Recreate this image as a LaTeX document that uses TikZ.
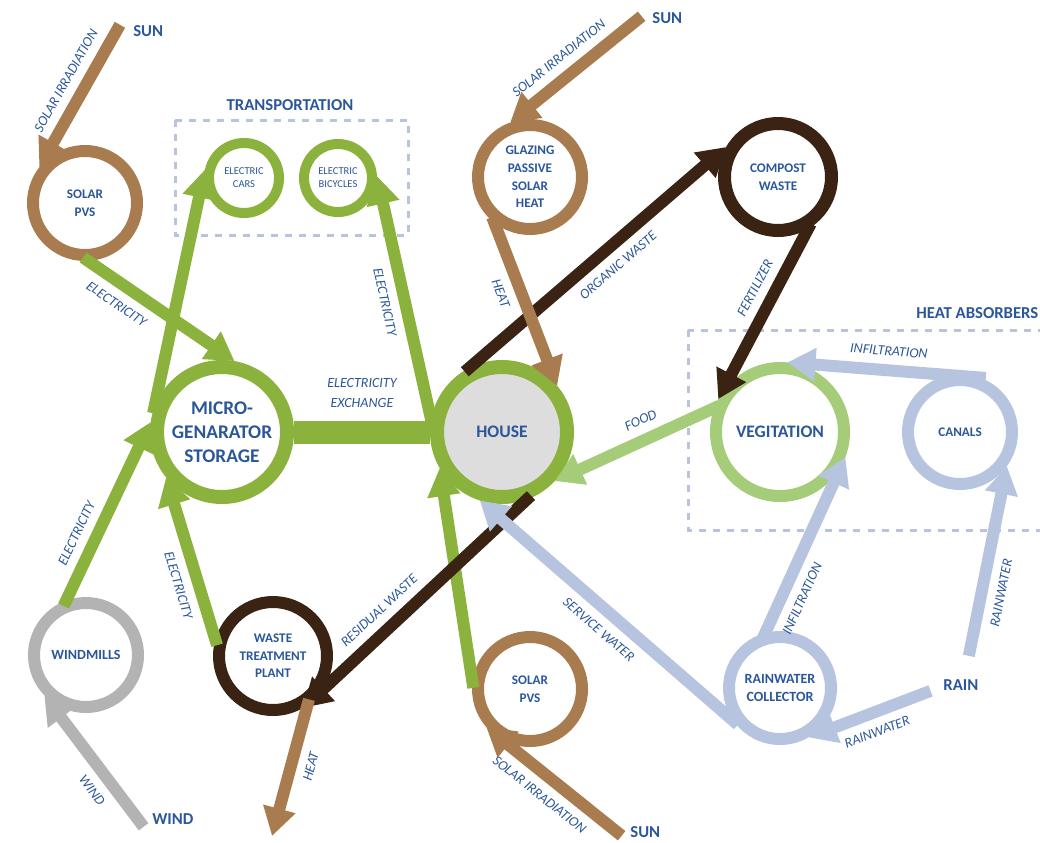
\documentclass[tikz,border=0pt]{standalone}
\usepackage{fontspec}
\setmainfont{Carlito}
\usetikzlibrary{arrows.meta}
\definecolor{pvbrown}{HTML}{A97C50}
\definecolor{wastebrown}{HTML}{3B2314}
\definecolor{elgreen}{HTML}{8AB23C}
\definecolor{foodgreen}{HTML}{A5CD79}
\definecolor{water}{HTML}{B7C4DF}
\definecolor{windgray}{HTML}{B3B3B3}
\definecolor{ink}{HTML}{2B579A}
\definecolor{housefill}{HTML}{DDDDDD}
\definecolor{groupline}{HTML}{B9C3DC}
\newcommand\pxu{0.02cm}
\newcommand\fsz[2]{\fontsize{#1}{#2}\selectfont}

\begin{document}
\begin{tikzpicture}[x=0.02cm, y=-0.02cm,
  bubble/.style={circle, inner sep=0pt, fill=white, text=ink, align=center},
  ring/.style n args={3}{draw=#1, line width=#3*\pxu, minimum size=(2*#2-#3)*\pxu},
  flow/.style={draw=#1, line width=12*\pxu, line cap=butt, shorten <=-3.4pt,
    -{Triangle[length=16pt,width=18pt]}},
  lab/.style={sloped, text=ink, inner sep=0pt, font=\itshape\fsz{8}{9.5}},
  headline/.style={text=ink, inner sep=0pt, font=\bfseries\fsz{9.5}{11}},
  groupbox/.style={draw=groupline, line width=3*\pxu, dash pattern=on 4pt off 4pt}
]
\useasboundingbox (0,0) rectangle (1040,842);

% group frames
\draw[groupbox] (175,120) rectangle (408,235);
\draw[groupbox] (688,330) rectangle (1060,530);
\node[headline] (trans) at (290,105) {TRANSPORTATION};
\node[headline, anchor=west] (habs) at (916,313) {HEAT ABSORBERS};

% sources
\node[headline, anchor=west] (sunA) at (133,31) {SUN};
\node[headline, anchor=west] (sunB) at (652,18) {SUN};
\node[headline, anchor=west] (sunC) at (630,832) {SUN};
\node[headline, anchor=west] (windL) at (152,819) {WIND};
\node[headline, anchor=west] (rainL) at (943,685) {RAIN};
\coordinate (sun1) at (117,30);
\coordinate (sun2) at (637,20);
\coordinate (sun3) at (617,832);
\coordinate (wind1) at (140,822);
\coordinate (rain1) at (970,650);
\coordinate (rain2) at (925,693);
\coordinate (heatout) at (272,836);

% components
\node[bubble, ring={pvbrown}{58}{12}, font=\bfseries\fsz{7.5}{10}] (spv1) at (85,203) {SOLAR\\PVS};
\node[bubble, ring={elgreen}{40}{10}, font=\fsz{6}{7.5}] (car) at (244,178) {ELECTRIC\\CARS};
\node[bubble, ring={elgreen}{39}{10}, font=\fsz{6}{7.5}] (bike) at (338,178) {ELECTRIC\\BICYCLES};
\node[bubble, ring={pvbrown}{58}{12}, font=\bfseries\fsz{7.5}{10}] (glz) at (530,177) {GLAZING\\PASSIVE\\SOLAR\\HEAT};
\node[bubble, ring={wastebrown}{60}{13}, font=\bfseries\fsz{7.5}{10}] (cmp) at (778,177) {COMPOST\\WASTE};
\node[bubble, ring={elgreen}{72}{14}, font=\bfseries\fsz{11}{13.5}] (mg) at (222,432) {MICRO-\\GENARATOR\\STORAGE};
\node[bubble, ring={elgreen}{72}{14}, fill=housefill, font=\bfseries\fsz{10}{12}] (house) at (502,432) {HOUSE};
\node[bubble, ring={foodgreen}{70}{12}, font=\bfseries\fsz{10}{12}] (veg) at (780,432) {VEGITATION};
\node[bubble, ring={water}{58}{12}, font=\bfseries\fsz{7.5}{10}] (can) at (960,432) {CANALS};
\node[bubble, ring={windgray}{58}{12}, font=\bfseries\fsz{8}{10}] (wm) at (86,655) {WINDMILLS};
\node[bubble, ring={wastebrown}{60}{12}, font=\bfseries\fsz{7.5}{10}] (wtp) at (273,656) {WASTE\\TREATMENT\\PLANT};
\node[bubble, ring={pvbrown}{58}{12}, font=\bfseries\fsz{7.5}{10}] (spv2) at (530,689) {SOLAR\\PVS};
\node[bubble, ring={water}{57}{12}, font=\bfseries\fsz{8}{10.5}] (rwc) at (780,688) {RAINWATER\\COLLECTOR};

% electricity
\draw[elgreen, line width=23*\pxu] (mg.east) -- (house.west)
  node[midway, above=7.5pt, text=ink, inner sep=0pt, align=center, font=\itshape\fsz{8}{11}] {ELECTRICITY\\EXCHANGE};
\draw[flow=elgreen] (mg.160) -- (car.168);
\draw[flow=elgreen] (spv1.-87) -- (mg.80) node[lab, below=5pt, pos=0.27] {ELECTRICITY};
\draw[flow=elgreen] (house.170) -- (bike.3) node[lab, below=5pt, pos=0.5] {ELECTRICITY};
\draw[flow=elgreen] (wm.110) -- (mg.172) node[lab, above=5pt, pos=0.33] {ELECTRICITY};
\draw[flow=elgreen] (wtp.164) -- (mg.-141) node[lab, below=5pt, pos=0.37] {ELECTRICITY};
\draw[flow=elgreen] (spv2.173) -- (house.-150);

% sunlight and heat
\draw[flow=pvbrown] (sun1) -- (spv1.142) node[lab, above=5pt, pos=0.44] {SOLAR IRRADIATION};
\draw[flow=pvbrown] (sun2) -- (glz.110) node[lab, above=5pt, pos=0.52] {SOLAR IRRADIATION};
\draw[flow=pvbrown] (sun3) -- (spv2.-139) node[lab, below=5pt, pos=0.5] {SOLAR IRRADIATION};

% waste and food
\draw[flow=wastebrown] (house.117) -- (cmp.150) node[lab, below=5pt, pos=0.53] {ORGANIC WASTE};
\draw[flow=pvbrown] (glz.-128) -- (house.40) node[lab, below=5pt, pos=0.39] {HEAT};
\draw[flow=foodgreen] (veg.160) -- (house.-43) node[lab, above=5pt, pos=0.41] {FOOD};
\draw[flow=wastebrown] (cmp.-60) -- (veg.152) node[lab, above=5pt, pos=0.4] {FERTILIZER};
\draw[flow=wastebrown] (house.-70) -- (wtp.-60) node[lab, above=5pt, pos=0.6] {RESIDUAL WASTE};
\draw[flow=pvbrown] (wtp.-55) -- (heatout) node[lab, below=5pt, pos=0.43] {HEAT};

% water
\draw[flow=water] (can.70) -- (veg.84) node[lab, above=5pt, pos=0.48] {INFILTRATION};
\draw[flow=water] (rwc.105) -- (veg.-21) node[lab, below=5pt, pos=0.24] {INFILTRATION};
\draw[flow=water] (rain1) -- (can.-36) node[lab, below=5pt, pos=0.33] {RAINWATER};
\draw[flow=water] (rain2) -- (rwc.-60) node[lab, below=5pt, pos=0.47] {RAINWATER};
\draw[flow=water] (rwc.-145) -- (house.-108) node[lab, below=5pt, pos=0.48] {SERVICE WATER};

% wind
\draw[flow=windgray] (wind1) -- (wm.-136) node[lab, below=5pt, pos=0.34] {WIND};
\end{tikzpicture}
\end{document}
